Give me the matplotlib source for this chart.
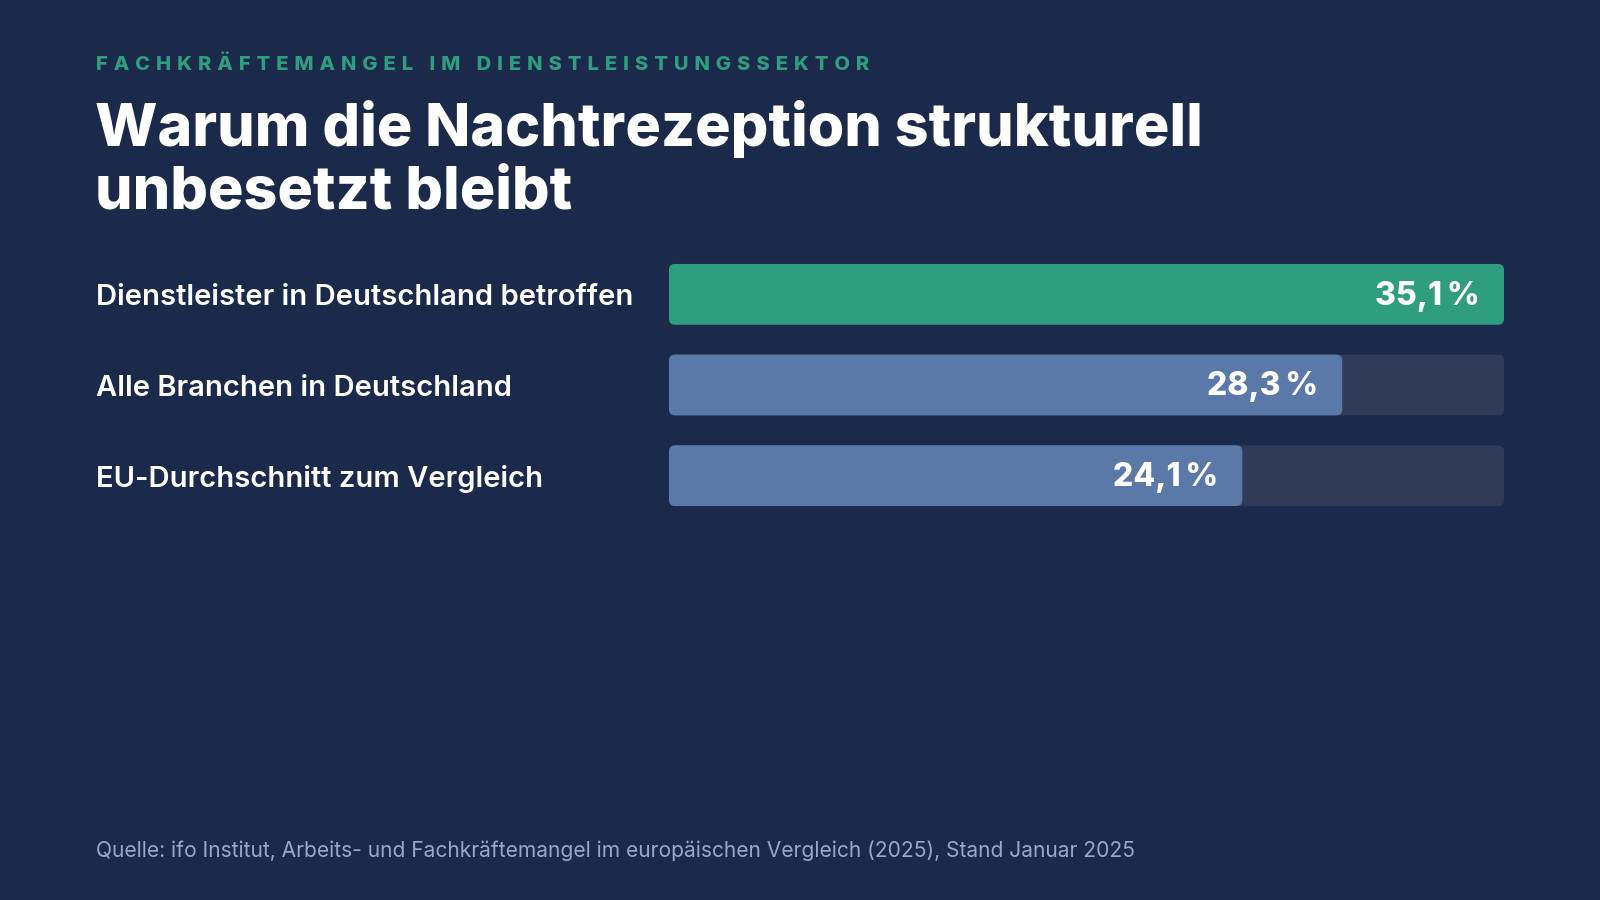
import matplotlib
matplotlib.use("Agg")
import matplotlib.pyplot as plt
from matplotlib.patches import FancyBboxPatch

# data
categories = ["Dienstleister in Deutschland betroffen",
              "Alle Branchen in Deutschland",
              "EU-Durchschnitt zum Vergleich"]
values = [35.1, 28.3, 24.1]
value_labels = ["35,1\u2009%", "28,3\u2009%", "24,1\u2009%"]
highlight = [True, False, False]

kicker = "FACHKRÄFTEMANGEL IM DIENSTLEISTUNGSSEKTOR"
title_lines = ["Warum die Nachtrezeption strukturell", "unbesetzt bleibt"]
source = "Quelle: ifo Institut, Arbeits- und Fachkräftemangel im europäischen Vergleich (2025), Stand Januar 2025"

BG = '#1b2a4a'
GREEN = '#2e9e7e'
BLUE = '#5a79a8'
TRACK = '#2f3b58'
FONT = ['Inter', 'DejaVu Sans']

W, H = 1600, 900
fig = plt.figure(figsize=(16, 9), dpi=100)
fig.patch.set_facecolor(BG)

def fx(px):
    return px / W

def fy(py):
    return 1 - py / H

# kicker with letter spacing: thin spaces between the letters
spaced = "\u2009\u2009".join(kicker)
fig.text(fx(96), fy(65), spaced, fontsize=14.5, fontweight='heavy', color=GREEN,
         family=FONT, va='center', ha='left')

fig.text(fx(95), fy(129), title_lines[0], fontsize=42.5, fontweight='heavy', color='white',
         family=FONT, va='center', ha='left')
fig.text(fx(95), fy(193), title_lines[1], fontsize=42.5, fontweight='heavy', color='white',
         family=FONT, va='center', ha='left')

# bar axes
left, right = 669, 1504
top, bottom = 249, 521
ax = fig.add_axes([fx(left), fy(bottom), fx(right - left), (bottom - top) / H])
ax.set_facecolor('none')
vmax = max(values)
ax.set_xlim(0, vmax)
ax.set_ylim(len(values) - 0.5, -0.5)
ax.axis('off')

ypos = list(range(len(values)))
bar_h = 0.67
tracks = ax.barh(ypos, [vmax] * len(values), height=bar_h, color=TRACK)
bars = ax.barh(ypos, values, height=bar_h,
               color=[GREEN if h else BLUE for h in highlight])

# round the corners
xpp = vmax / (right - left)
ypp = len(values) / (bottom - top)
aspect = ypp / xpp
r = 6 * xpp
for group in (tracks, bars):
    for b in group:
        fb = FancyBboxPatch((b.get_x(), b.get_y()), b.get_width(), b.get_height(),
                            boxstyle=f"round,pad=0,rounding_size={r}",
                            mutation_aspect=aspect, facecolor=b.get_facecolor(),
                            edgecolor='none')
        b.set_visible(False)
        ax.add_patch(fb)

for y, v, lab in zip(ypos, values, value_labels):
    ax.text(v - 24 * xpp, y + 2 * ypp, lab, fontsize=23, fontweight='heavy', color='white',
            family=FONT, ha='right', va='center')

for y, cat in zip(ypos, categories):
    fig.text(fx(96), fy(top + (y + 0.5) * (bottom - top) / len(values) + 3), cat,
             fontsize=21, fontweight='semibold', color='white', family=FONT,
             ha='left', va='center')

fig.text(fx(96), fy(851), source, fontsize=15.1, color='#9aa8c8', family=FONT,
         ha='left', va='center')

fig.savefig('out.png', dpi=100, facecolor=BG)
